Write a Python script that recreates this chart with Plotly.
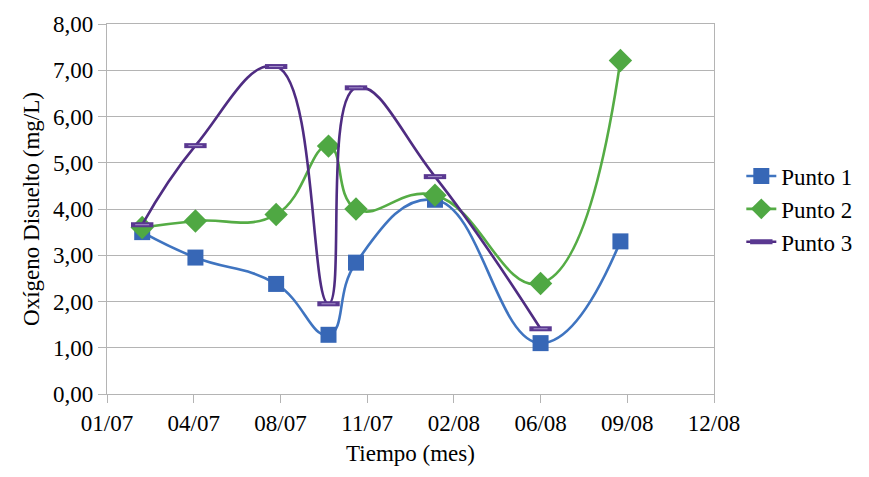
import pandas as pd
import plotly.graph_objects as go

# Sampling dates and dissolved-oxygen readings (mg/L)
fechas = ["2007-02-26", "2007-04-29", "2007-08-01", "2007-10-01",
          "2007-11-02", "2008-02-02", "2008-06-04", "2008-09-05"]
punto1 = [3.50, 2.95, 2.38, 1.28, 2.84, 4.20, 1.10, 3.30]
punto2 = [3.60, 3.74, 3.88, 5.36, 4.00, 4.30, 2.39, 7.21]
punto3 = [3.66, 5.37, 7.08, 1.95, 6.62, 4.70, 1.41, None]

# Date axis: ticks every 101 days, labelled mm/yy
eje_inicio = pd.Timestamp("2007-01-16")
paso_dias = 101
n_ticks = 8
tick_fechas = [eje_inicio + pd.Timedelta(days=paso_dias * k) for k in range(n_ticks)]

# Y axis ticks with decimal comma
y_ticks = [0, 1, 2, 3, 4, 5, 6, 7, 8]
y_ticktext = ["0,00", "1,00", "2,00", "3,00", "4,00", "5,00", "6,00", "7,00", "8,00"]

FONT = "Liberation Serif"
FS = 23
AZUL_L, AZUL_M = "#3f74c0", "#3767b6"
VERDE_L, VERDE_M = "#55ac45", "#4fa843"
MORADO_L, MORADO_M, MORADO_IN = "#4f2c82", "#5a3891", "#a794cc"
GRIS = "#b4b4b4"
SUAVE = 1.3

fig = go.Figure()

fig.add_trace(go.Scatter(
    x=fechas, y=punto1, name="Punto 1", mode="lines+markers",
    line=dict(color=AZUL_L, width=2.6, shape="spline", smoothing=SUAVE),
    marker=dict(symbol="square", size=16, color=AZUL_M),
))
fig.add_trace(go.Scatter(
    x=fechas, y=punto2, name="Punto 2", mode="lines+markers",
    line=dict(color=VERDE_L, width=2.6, shape="spline", smoothing=SUAVE),
    marker=dict(symbol="diamond", size=18, color=VERDE_M),
))
fig.add_trace(go.Scatter(
    x=fechas, y=punto3, name="Punto 3", mode="lines+markers",
    line=dict(color=MORADO_L, width=2.6, shape="spline", smoothing=SUAVE),
    marker=dict(symbol="line-ew", size=16, color=MORADO_M,
                line=dict(color=MORADO_M, width=5)),
))
# lighter inner stroke of the dash markers
fig.add_trace(go.Scatter(
    x=fechas, y=punto3, mode="markers", showlegend=False, hoverinfo="skip",
    marker=dict(symbol="line-ew", size=10, color=MORADO_IN,
                line=dict(color=MORADO_IN, width=1)),
))

fig.update_layout(
    template="plotly_white",
    width=869, height=477,
    margin=dict(l=107, r=147, t=15, b=83),
    font=dict(family=FONT, size=FS, color="black"),
    showlegend=True,
    legend=dict(x=1.045, y=0.5, xanchor="left", yanchor="middle",
                font=dict(family=FONT, size=FS, color="black")),
    xaxis=dict(
        type="date",
        range=[tick_fechas[0], tick_fechas[-1]],
        tickvals=tick_fechas, tickformat="%m/%y",
        showgrid=False, zeroline=False,
        showline=True, linecolor=GRIS, linewidth=1.3, mirror=True,
        ticks="outside", ticklen=8, tickcolor=GRIS, tickwidth=1.3,
        tickfont=dict(family=FONT, size=FS, color="black"),
        title=dict(text="Tiempo (mes)", standoff=10,
                   font=dict(family=FONT, size=FS, color="black")),
    ),
    yaxis=dict(
        range=[0, 8], tickvals=y_ticks, ticktext=y_ticktext,
        showgrid=True, gridcolor=GRIS, gridwidth=1.3, zeroline=False,
        showline=True, linecolor=GRIS, linewidth=1.3, mirror=True,
        ticks="outside", ticklen=8, tickcolor=GRIS, tickwidth=1.3,
        tickfont=dict(family=FONT, size=FS, color="black"),
        title=dict(text="Oxígeno Disuelto (mg/L)", standoff=6,
                   font=dict(family=FONT, size=FS, color="black")),
    ),
)

fig.write_html("out.html")
